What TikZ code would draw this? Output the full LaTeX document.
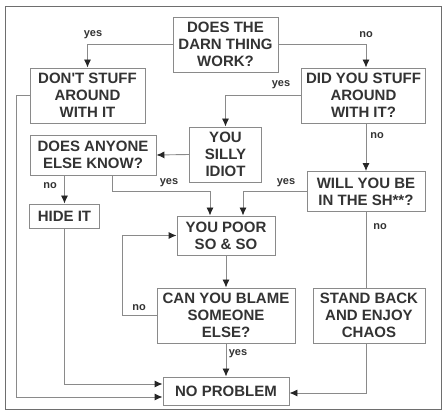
\documentclass[tikz,border=0pt]{standalone}
\usepackage{fontspec}
\setmainfont{Liberation Sans}
\usetikzlibrary{arrows.meta}
\definecolor{ink}{HTML}{333333}
\definecolor{rule}{HTML}{8A8A8A}
\tikzset{
  box/.style={draw=rule, line width=0.9pt, align=center, inner sep=2pt,
    font=\fontsize{15}{17}\selectfont\bfseries, text=ink},
  lbl/.style={font=\fontsize{11}{12}\selectfont\bfseries, text=ink, inner sep=0pt},
  flow/.style={draw=rule, line width=0.9pt},
}
\begin{document}
\begin{tikzpicture}[x=1pt, y=-1pt, >={Latex[length=8pt,width=7pt,color=black!85]}]
\useasboundingbox (0,0) rectangle (445,414);
\draw[rule!80!black, line width=1pt] (5,7) rectangle (441,410);
% the boxes
\node[box, minimum width=105pt, minimum height=55pt] (work) at (225.5,44.5) {DOES THE\\DARN THING\\WORK?};
\node[box, minimum width=115pt, minimum height=55pt] (dont) at (87.5,95.5) {DON\textquotesingle T STUFF\\AROUND\\WITH IT};
\node[box, minimum width=124pt, minimum height=55pt] (did) at (363.5,95.5) {DID YOU STUFF\\AROUND\\WITH IT?};
\node[box, minimum width=72pt, minimum height=55pt] (silly) at (225.5,154.5) {YOU\\SILLY\\IDIOT};
\node[box, minimum width=126pt, minimum height=40pt] (anyone) at (93,155) {DOES ANYONE\\ELSE KNOW?};
\node[box, minimum width=70pt, minimum height=24pt] (hide) at (64.5,216) {HIDE IT};
\node[box, minimum width=118pt, minimum height=40pt] (will) at (366,191.5) {WILL YOU BE\\IN THE SH**?};
\node[box, minimum width=98pt, minimum height=39pt] (poor) at (226,235.5) {YOU POOR\\SO \& SO};
\node[box, minimum width=138pt, minimum height=55pt] (blame) at (226,315.5) {CAN YOU BLAME\\SOMEONE\\ELSE?};
\node[box, minimum width=112pt, minimum height=55pt] (stand) at (369,315.5) {STAND BACK\\AND ENJOY\\CHAOS};
\node[box, minimum width=126pt, minimum height=28pt] (noprob) at (226,391) {NO PROBLEM};
% the connectors
\draw[flow,->] (work.west) -| (dont.north);
\draw[flow,->] (work.east) -| (will.north |- did.north);
\draw[flow,->] (did.west) -| (silly.north);
\draw[flow,->] (did.south -| will.north) -- (will.north);
\draw[flow,->] (silly.west) -- (anyone.east);
\draw[flow,->] (anyone.south -| hide.north) -- (hide.north);
\draw[flow,->] ([xshift=19pt]anyone.south) |- ([xshift=-16pt]poor.north |- will.west) -- ([xshift=-16pt]poor.north);
\draw[flow,->] (will.west) -| ([xshift=17pt]poor.north);
\draw[flow,->] (poor.south) -- (blame.north);
\draw[flow,->] (blame.west) -- ++(-34,0) |- (poor.west);
\draw[flow] (will.south) -- (will.south |- stand.north);
\draw[flow,->] (blame.south) -- (noprob.north);
\draw[flow,->] (will.south |- stand.south) |- ([yshift=-2pt]noprob.east);
\draw[flow,->] (hide.south) |- ([yshift=7pt]noprob.west);
\draw[flow,->] (dont.west) -- ++(-13,0) |- ([yshift=-6pt]noprob.west);
% the answers
\node[lbl] (yesA) at (93,35) {yes};
\node[lbl] (noA) at (366,35) {no};
\node[lbl] (yesB) at (281,85) {yes};
\node[lbl] (noB) at (377,136) {no};
\node[lbl] (noC) at (50,186) {no};
\node[lbl] (yesC) at (169,183) {yes};
\node[lbl] (yesD) at (286,183) {yes};
\node[lbl] (noD) at (139,308) {no};
\node[lbl] (noE) at (380,227) {no};
\node[lbl] (yesE) at (238,354) {yes};
\end{tikzpicture}
\end{document}
